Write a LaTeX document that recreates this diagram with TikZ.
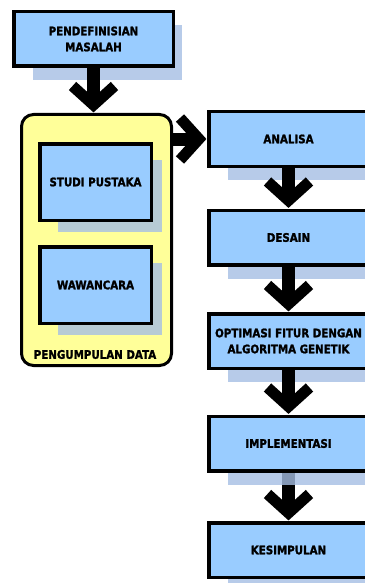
\documentclass[tikz,border=0pt]{standalone}
\usepackage{fontspec}
\setmainfont{DejaVu Sans}[FakeStretch=0.87, BoldFeatures={FakeBold=1.6}]
\usetikzlibrary{calc}
\definecolor{boxblue}{RGB}{153,204,255}
\definecolor{groupyellow}{RGB}{255,255,153}
\definecolor{shadowblue}{RGB}{165,190,228}
\pgfdeclarelayer{groupbg}
\pgfdeclarelayer{under}
\pgfdeclarelayer{shade}
\pgfdeclarelayer{links}
\pgfsetlayers{groupbg,under,shade,links,main}

\begin{document}
\begin{tikzpicture}[x=1pt,y=-1pt,
  label font/.style={font=\bfseries\fontsize{11.8}{16}\selectfont},
  stepbox/.style={draw=black, line width=3.5pt, fill=boxblue, inner sep=0pt,
    minimum width=159.5pt, minimum height=54.5pt, align=center, label font},
  subbox/.style={stepbox, minimum width=111.5pt, minimum height=76.5pt},
  groupbox/.style={draw=black, line width=3pt, fill=groupyellow, rounded corners=12pt,
    minimum width=150pt, minimum height=251pt, inner sep=0pt},
  boxshadow/.style={fill=shadowblue, opacity=0.8},
  shaft/.style={draw=black, line width=13pt, line cap=butt, shorten >=10pt},
  chev/.pic={\draw[black, line width=11pt, line cap=butt, line join=miter]
    (-27,21) -- (-8,0) -- (-27,-21);}
]
\useasboundingbox (0,0) rectangle (364,583);

% data collection group
\begin{pgfonlayer}{groupbg}
  \node[groupbox] (G) at (96.5,240) {};
\end{pgfonlayer}
\node[label font] (GL) at (95,354.5) {PENGUMPULAN DATA};

% boxes
\node[stepbox] (P) at (93.5,39) {PENDEFINISIAN\\MASALAH};
\node[subbox] (S) at (95.5,182) {STUDI PUSTAKA};
\node[subbox] (W) at (95.5,285) {WAWANCARA};
\node[stepbox] (A) at (288.5,139) {ANALISA};
\node[stepbox] (D) at (288.5,237.5) {DESAIN};
\node[stepbox] (O) at (288.5,341) {OPTIMASI FITUR DENGAN\\ALGORITMA GENETIK};
\node[stepbox] (I) at (288.5,443.5) {IMPLEMENTASI};
\node[stepbox] (K) at (288.5,550) {KESIMPULAN};

% offset shadows
\begin{pgfonlayer}{shade}
  \foreach \b in {P,A,D,O,I,K}
    \fill[boxshadow] ($(\b.north west)+(21,15)$) rectangle ($(\b.south east)+(7,12)$);
  \foreach \b in {S,W}
    \fill[boxshadow] ($(\b.north west)+(20,18)$) rectangle ($(\b.south east)+(9,10)$);
\end{pgfonlayer}

% connectors
\begin{pgfonlayer}{links}
  \draw[shaft] (P.south) -- (P.south |- G.north);
  \pic[rotate=-90] at (P.south |- G.north) {chev};
  \draw[shaft] (A.west -| G.east) -- (A.west);
  \pic at (A.west) {chev};
  \foreach \f/\t in {A/D, D/O, O/I}{
    \draw[shaft] (\f.south) -- (\t.north);
    \pic[rotate=-90] at (\t.north) {chev};
  }
  \pic[rotate=-90] at (K.north) {chev};
\end{pgfonlayer}
\begin{pgfonlayer}{under}
  \draw[shaft] (I.south) -- (K.north);
\end{pgfonlayer}
\end{tikzpicture}
\end{document}
